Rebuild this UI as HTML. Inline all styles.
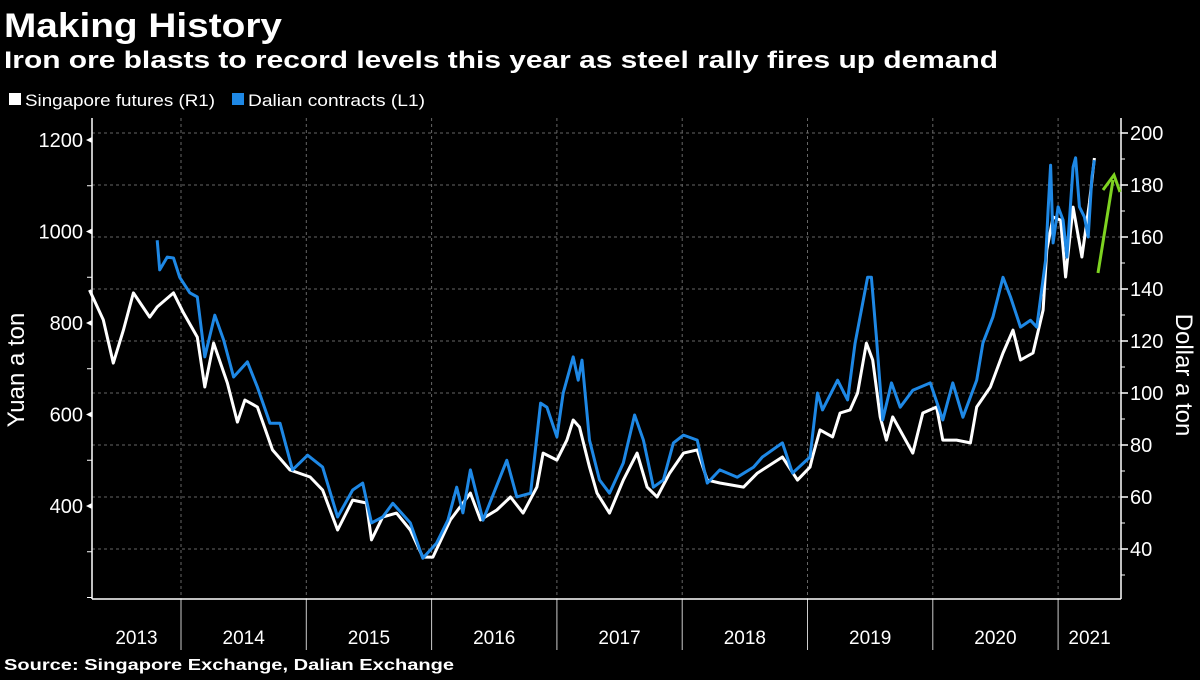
<!DOCTYPE html>
<html><head><meta charset="utf-8"><style>
body{margin:0;background:#000;width:1200px;height:675px;overflow:hidden;font-family:"Liberation Sans",sans-serif;color:#fff}
</style></head><body>
<svg id="chart" width="1200" height="675" xmlns="http://www.w3.org/2000/svg" font-family="Liberation Sans, sans-serif">
<text x="4" y="37" font-size="34" font-weight="bold" fill="#fff" textLength="278" lengthAdjust="spacingAndGlyphs">Making History</text>
<text x="4" y="68" font-size="24" font-weight="bold" fill="#fff" textLength="994" lengthAdjust="spacingAndGlyphs">Iron ore blasts to record levels this year as steel rally fires up demand</text>
<g>
<rect x="9" y="93" width="12" height="12" fill="#fff"/>
<text x="25" y="106" font-size="17" fill="#fff" textLength="190" lengthAdjust="spacingAndGlyphs">Singapore futures (R1)</text>
<rect x="232" y="93" width="12" height="12" fill="#1e88e5"/>
<text x="248" y="106" font-size="17" fill="#fff" textLength="177" lengthAdjust="spacingAndGlyphs">Dalian contracts (L1)</text>
</g>
<g id="grid"></g>
<g id="axes"></g>
<g id="series"></g>
<text transform="translate(24,370) rotate(-90)" text-anchor="middle" font-size="24" fill="#fff">Yuan a ton</text>
<text transform="translate(1176,375) rotate(90)" text-anchor="middle" font-size="24" fill="#fff">Dollar a ton</text>
<g>
<line x1="1098" y1="273" x2="1113" y2="180" stroke="#7ed321" stroke-width="3"/>
<polyline points="1103,190 1114,175 1120,192" fill="none" stroke="#7ed321" stroke-width="3"/>
</g>
<text x="4" y="670" font-size="16" font-weight="bold" fill="#fff" textLength="450" lengthAdjust="spacingAndGlyphs">Source: Singapore Exchange, Dalian Exchange</text>
</svg>
<script>
const sgDates=[2013.27,2013.38,2013.46,2013.54,2013.62,2013.75,2013.81,2013.94,2014.02,2014.13,2014.19,2014.26,2014.37,2014.45,2014.51,2014.61,2014.73,2014.87,2015.03,2015.13,2015.25,2015.37,2015.48,2015.52,2015.61,2015.72,2015.83,2015.93,2016.01,2016.15,2016.31,2016.39,2016.52,2016.63,2016.73,2016.84,2016.89,2017.00,2017.08,2017.13,2017.18,2017.26,2017.32,2017.42,2017.53,2017.64,2017.72,2017.80,2017.90,2018.01,2018.12,2018.20,2018.30,2018.49,2018.60,2018.80,2018.92,2019.02,2019.04,2019.10,2019.20,2019.26,2019.34,2019.40,2019.47,2019.52,2019.58,2019.63,2019.68,2019.84,2019.92,2020.03,2020.08,2020.19,2020.30,2020.35,2020.46,2020.56,2020.64,2020.70,2020.80,2020.88,2020.91,2020.96,2021.02,2021.06,2021.12,2021.19,2021.25,2021.29];
const sgValues=[139.6,128.1,111.5,124.2,138.5,129.2,133.1,138.5,130.8,121.5,102.3,119.2,103.8,88.8,97.3,94.6,78.1,70.4,67.7,62.7,47.3,58.8,57.7,43.5,52.3,53.8,47.3,36.9,36.9,51.2,61.5,51.2,55,60,53.8,63.8,76.9,74.2,81.9,89.6,86.9,71.5,61.5,53.8,66.5,76.9,63.8,60,69.2,76.9,78.1,66.5,65.4,63.8,69.2,75.4,66.5,71.5,75.4,85.8,83.1,92.3,93.5,100,119.2,112.7,90.8,81.9,90.8,76.9,92.3,94.6,81.9,81.9,80.8,94.6,102.3,115.4,124.2,112.7,115.4,131.9,155,167.7,166.5,144.6,171.5,152.3,173.1,190.4];
const dlDates=[2013.81,2013.83,2013.89,2013.94,2013.99,2014.07,2014.13,2014.19,2014.27,2014.34,2014.42,2014.53,2014.61,2014.71,2014.79,2014.89,2015.01,2015.13,2015.25,2015.37,2015.45,2015.52,2015.61,2015.69,2015.83,2015.93,2016.04,2016.13,2016.20,2016.25,2016.31,2016.41,2016.60,2016.68,2016.79,2016.87,2016.92,2017.00,2017.05,2017.13,2017.17,2017.20,2017.26,2017.34,2017.42,2017.53,2017.62,2017.69,2017.77,2017.85,2017.93,2018.01,2018.12,2018.20,2018.30,2018.44,2018.57,2018.64,2018.80,2018.88,2019.02,2019.08,2019.12,2019.24,2019.32,2019.38,2019.48,2019.51,2019.55,2019.60,2019.67,2019.74,2019.84,2019.98,2020.08,2020.16,2020.24,2020.35,2020.40,2020.48,2020.56,2020.62,2020.70,2020.78,2020.83,2020.90,2020.92,2020.94,2020.96,2021.00,2021.04,2021.07,2021.12,2021.14,2021.17,2021.21,2021.24,2021.27,2021.29];
const dlValues=[981,916,944,942,900,866,857,726,817,763,682,715,660,581,581,479,511,485,376,435,450,363,376,406,363,286,319,369,441,385,479,369,500,420,428,625,616,551,647,726,675,719,544,457,428,494,599,544,441,457,538,555,544,450,479,463,485,507,538,472,507,647,610,675,632,756,900,900,769,588,669,616,653,669,588,669,594,675,756,813,900,857,791,806,791,938,1047,1145,975,1054,1025,944,1141,1161,1054,1032,988,1119,1156];
const leftTicks=[1200,1000,800,600,400];
const leftMinor=[1100,900,700,500,300,200];
const rightTicks=[200,180,160,140,120,100,80,60,40];
const rightMinor=[190,170,150,130,110,90,70,50,30];
const yearLabels=["2013","2014","2015","2016","2017","2018","2019","2020","2021"];
const yearStarts=[2014,2015,2016,2017,2018,2019,2020,2021];

const NS="http://www.w3.org/2000/svg";
const X0=92,X1=1121,YB=599,YT=118;
const xS=d=>181+(d-2014)*125.3;
const yL=v=>140+(1200-v)*0.4575;
const yR=v=>133+(200-v)*2.6;
function mk(tag,attrs,parent){const e=document.createElementNS(NS,tag);for(const k in attrs)e.setAttribute(k,attrs[k]);parent.appendChild(e);return e;}
const grid=document.getElementById('grid'),axes=document.getElementById('axes'),series=document.getElementById('series');
rightTicks.forEach(v=>{const y=yR(v);
 const g=mk('line',{x1:X0,x2:X1,y1:y,y2:y,stroke:'#666','stroke-width':1,'stroke-dasharray':'3,3'},grid);
 
 
 const t=mk('line',{x1:X1,x2:X1+7,y1:y,y2:y,stroke:'#fff','stroke-width':1.5},axes);
 
 
 const l=mk('text',{x:X1+9,y:y+7,'font-size':20,fill:'#fff'},axes);l.textContent=v;
 
 
});
rightMinor.forEach(v=>{const y=yR(v);if(y>YB||y<YT)return;
 const t=mk('line',{x1:X1,x2:X1+4,y1:y,y2:y,stroke:'#fff','stroke-width':1},axes);
 
 
});
yearStarts.forEach(d=>{const x=xS(d);
 const g=mk('line',{x1:x,x2:x,y1:YT,y2:YB,stroke:'#666','stroke-width':1,'stroke-dasharray':'3,3'},grid);
 
 
 const s=mk('line',{x1:x,x2:x,y1:YB,y2:650,stroke:'#ccc','stroke-width':1},axes);
 
 
});
const bounds=[X0].concat(yearStarts.map(xS)).concat([X1]);
yearLabels.forEach((lab,i)=>{const x=(bounds[i]+bounds[i+1])/2;
 const t=mk('text',{x:x,y:644,'font-size':19,fill:'#fff','text-anchor':'middle'},axes);t.textContent=lab;
 
 
});
leftTicks.forEach(v=>{const y=yL(v);
 const t=mk('polygon',{points:`${X0-6},${y} ${X0},${y-3} ${X0},${y+3}`,fill:'#fff'},axes);
 
 
 const l=mk('text',{x:X0-9,y:y+7,'font-size':20,fill:'#fff','text-anchor':'end'},axes);l.textContent=v;
 
 
});
leftMinor.forEach(v=>{const y=yL(v);
 const t=mk('line',{x1:X0-5,x2:X0,y1:y,y2:y,stroke:'#fff','stroke-width':1},axes);
 
 
});
const la=mk('line',{x1:X0,x2:X0,y1:YT,y2:YB,stroke:'#fff','stroke-width':1.5},axes);


const ra=mk('line',{x1:X1,x2:X1,y1:YT,y2:YB,stroke:'#fff','stroke-width':1.5},axes);


const xa=mk('line',{x1:X0,x2:X1,y1:YB,y2:YB,stroke:'#fff','stroke-width':1.5},axes);



const sgPts=sgDates.map((d,i)=>xS(d).toFixed(1)+','+yR(sgValues[i]).toFixed(1)).join(' ');
const dlPts=dlDates.map((d,i)=>xS(d).toFixed(1)+','+yL(dlValues[i]).toFixed(1)).join(' ');
const sg=mk('polyline',{points:sgPts,fill:'none',stroke:'#fff','stroke-width':3,'stroke-linejoin':'round'},series);


const dl=mk('polyline',{points:dlPts,fill:'none',stroke:'#1e88e5','stroke-width':3,'stroke-linejoin':'round'},series);


</script>
</body></html>
